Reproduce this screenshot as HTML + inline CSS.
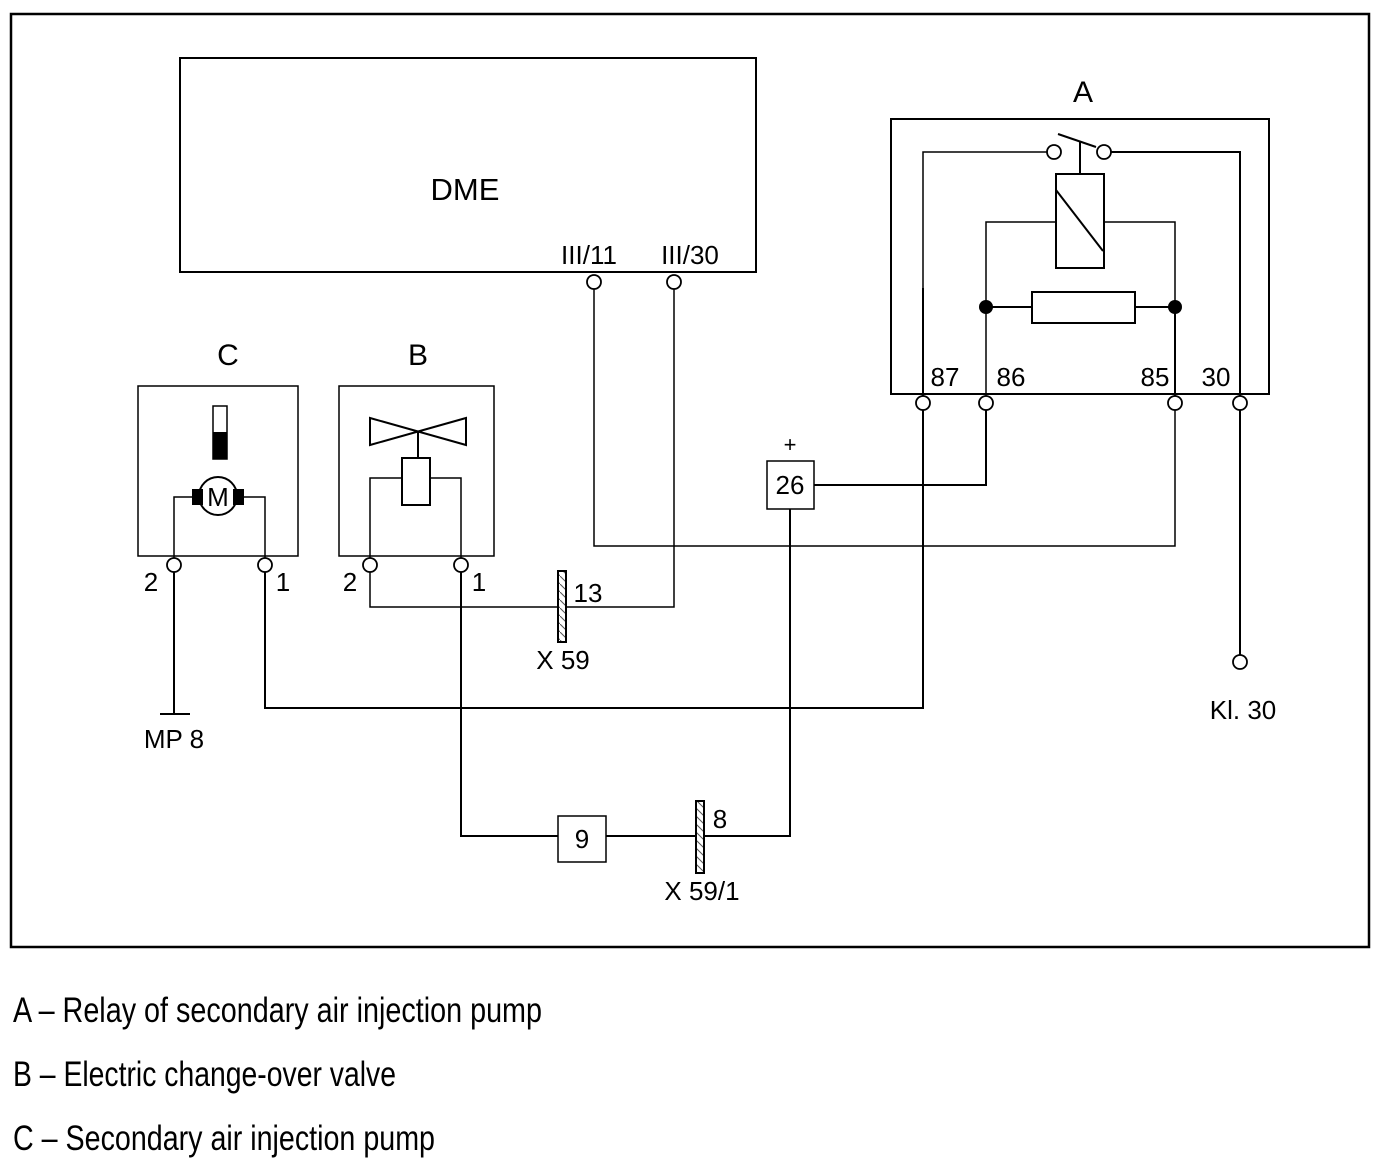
<!DOCTYPE html>
<html><head><meta charset="utf-8"><style>
html,body{margin:0;padding:0;background:#fff;}
svg{display:block;}
text{font-family:"Liberation Sans",sans-serif;fill:#000;}
</style></head><body>
<svg width="1383" height="1171" viewBox="0 0 1383 1171" xmlns="http://www.w3.org/2000/svg">
<defs>
<pattern id="h" width="8" height="8" patternUnits="userSpaceOnUse">
<rect width="8" height="8" fill="#fff"/><line x1="0" y1="0" x2="8" y2="8" stroke="#555" stroke-width="1"/>
</pattern>
</defs>
<g fill="none" stroke="#000">
<rect x="11" y="14" width="1358" height="933" stroke-width="2.5"/>
<rect x="180" y="58" width="576" height="214" stroke-width="2"/>
<rect x="891" y="119" width="378" height="275" stroke-width="2"/>
<rect x="138" y="386" width="160" height="170" stroke-width="1.5"/>
<rect x="339" y="386" width="155" height="170" stroke-width="1.5"/>

<polyline points="923,400 923,288" stroke-width="2"/>
<polyline points="923,288 923,152 1047,152" stroke-width="1.5"/>
<polyline points="1111,152 1240,152 1240,396" stroke-width="2"/>
<line x1="1058" y1="134" x2="1096" y2="147" stroke-width="2"/>
<line x1="1080" y1="142" x2="1080" y2="173" stroke-width="2"/>
<rect x="1056" y="174" width="48" height="94" stroke-width="2"/>
<line x1="1056" y1="190" x2="1103" y2="251" stroke-width="2"/>
<polyline points="1056,222 986,222 986,396" stroke-width="1.5"/>
<polyline points="1104,222 1175,222 1175,396" stroke-width="1.5"/>
<polyline points="1175,307 1175,396" stroke-width="2"/>
<rect x="1032" y="292" width="103" height="31" stroke-width="2"/>
<line x1="986" y1="307" x2="1032" y2="307" stroke-width="2"/>
<line x1="1135" y1="307" x2="1175" y2="307" stroke-width="2"/>

<rect x="213" y="406" width="14" height="53" stroke-width="1.5"/>
<polyline points="192,497 174,497 174,558" stroke-width="1.5"/>
<polyline points="244,497 265,497 265,558" stroke-width="1.5"/>
<circle cx="218" cy="496" r="19" stroke-width="2"/>

<polygon points="370,418 370,445 466,418 466,445" stroke-width="2"/>
<line x1="418" y1="431" x2="418" y2="458" stroke-width="2"/>
<rect x="402" y="458" width="28" height="47" stroke-width="2"/>
<polyline points="402,478 370,478 370,558" stroke-width="1.5"/>
<polyline points="430,478 461,478 461,558" stroke-width="1.5"/>

<line x1="174" y1="572" x2="174" y2="714" stroke-width="2"/>
<line x1="160" y1="714" x2="190" y2="714" stroke-width="2"/>
<polyline points="265,572 265,708 923,708 923,410" stroke-width="2"/>
<polyline points="370,572 370,607 674,607 674,289" stroke-width="1.5"/>
<polyline points="594,289 594,546 1175,546 1175,410" stroke-width="1.5"/>
<polyline points="461,572 461,836 558,836" stroke-width="2"/>
<line x1="606" y1="836" x2="700" y2="836" stroke-width="2"/>
<polyline points="700,836 790,836 790,509" stroke-width="2"/>
<polyline points="814,485 986,485 986,410" stroke-width="2"/>
<line x1="1240" y1="410" x2="1240" y2="655" stroke-width="2"/>
<rect x="558" y="816" width="48" height="46" stroke-width="1.5"/>
<rect x="767" y="461" width="47" height="48" stroke-width="1.5"/>
</g>
<rect x="558" y="571" width="8" height="71" fill="url(#h)" stroke="#000" stroke-width="2"/>
<rect x="696" y="801" width="8" height="72" fill="url(#h)" stroke="#000" stroke-width="2"/>
<rect x="213" y="432" width="14" height="27" fill="#000"/>
<rect x="192" y="489" width="11" height="16" fill="#000"/>
<rect x="233" y="489" width="11" height="16" fill="#000"/>
<circle cx="986" cy="307" r="7" fill="#000"/>
<circle cx="1175" cy="307" r="7" fill="#000"/>
<g fill="#fff" stroke="#000" stroke-width="1.8">
<circle cx="1054" cy="152" r="7"/><circle cx="1104" cy="152" r="7"/>
<circle cx="594" cy="282" r="7"/><circle cx="674" cy="282" r="7"/>
<circle cx="923" cy="403" r="7"/><circle cx="986" cy="403" r="7"/>
<circle cx="1175" cy="403" r="7"/><circle cx="1240" cy="403" r="7"/>
<circle cx="174" cy="565" r="7"/><circle cx="265" cy="565" r="7"/>
<circle cx="370" cy="565" r="7"/><circle cx="461" cy="565" r="7"/>
<circle cx="1240" cy="662" r="7"/>
</g>
<g font-size="30">
<text x="465" y="200" text-anchor="middle" font-size="31">DME</text>
<text x="1083" y="102" text-anchor="middle">A</text>
<text x="228" y="365" text-anchor="middle">C</text>
<text x="418" y="365" text-anchor="middle">B</text>
<text x="218" y="506" text-anchor="middle" font-size="26">M</text>
</g>
<g font-size="26">
<text x="589" y="264" text-anchor="middle">III/11</text>
<text x="690" y="264" text-anchor="middle">III/30</text>
<text x="945" y="386" text-anchor="middle">87</text>
<text x="1011" y="386" text-anchor="middle">86</text>
<text x="1155" y="386" text-anchor="middle">85</text>
<text x="1216" y="386" text-anchor="middle">30</text>
<text x="151" y="591" text-anchor="middle">2</text>
<text x="283" y="591" text-anchor="middle">1</text>
<text x="350" y="591" text-anchor="middle">2</text>
<text x="479" y="591" text-anchor="middle">1</text>
<text x="588" y="602" text-anchor="middle">13</text>
<text x="563" y="669" text-anchor="middle">X 59</text>
<text x="174" y="748" text-anchor="middle">MP 8</text>
<text x="790" y="494" text-anchor="middle">26</text>
<text x="790" y="452" text-anchor="middle" font-size="22">+</text>
<text x="582" y="848" text-anchor="middle">9</text>
<text x="720" y="828" text-anchor="middle">8</text>
<text x="702" y="900" text-anchor="middle">X 59/1</text>
<text x="1243" y="719" text-anchor="middle">Kl. 30</text>
</g>
<g font-size="35">
<text x="13" y="1022" textLength="529" lengthAdjust="spacingAndGlyphs">A – Relay of secondary air injection pump</text>
<text x="13" y="1086" textLength="383" lengthAdjust="spacingAndGlyphs">B – Electric change-over valve</text>
<text x="13" y="1150" textLength="422" lengthAdjust="spacingAndGlyphs">C – Secondary air injection pump</text>
</g>
</svg>
</body></html>
